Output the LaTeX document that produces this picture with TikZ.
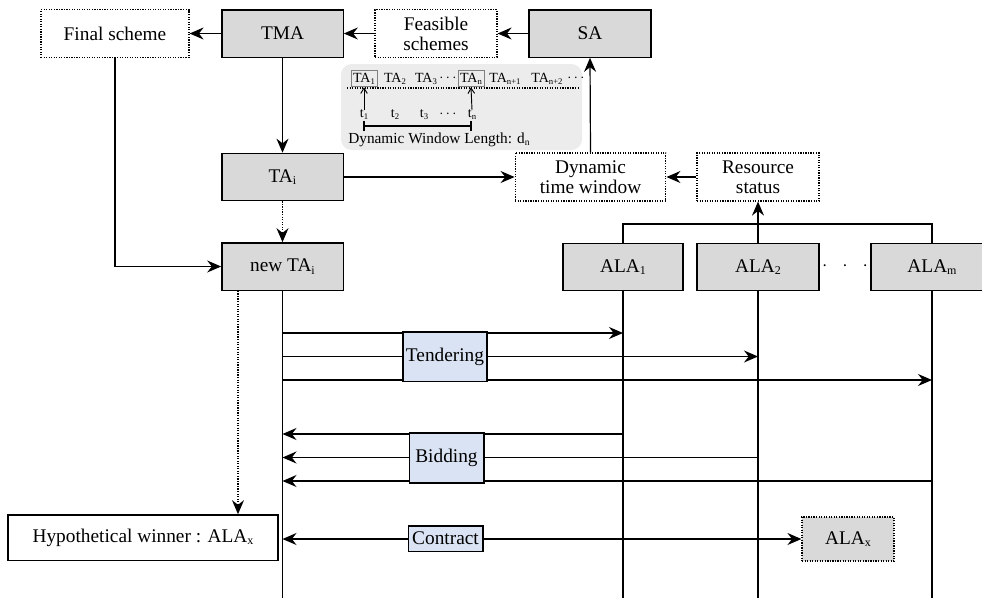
\documentclass[tikz,border=0pt]{standalone}
\usepackage{fontspec}
\usepackage{graphicx}
\setmainfont{Liberation Serif}
\usetikzlibrary{arrows.meta}
\definecolor{boxgray}{HTML}{D9D9D9}
\definecolor{boxblue}{HTML}{DAE3F3}
\definecolor{insetgray}{HTML}{ECECEC}
\definecolor{edgegray}{HTML}{808080}
\newcommand\sbx[1]{\raisebox{-0.3ex}{\scalebox{0.62}{#1}}}
\begin{document}
\begin{tikzpicture}[x=0.75pt,y=-0.75pt,
  every node/.style={font=\rmfamily\fontsize{14.5}{16}\selectfont, inner sep=0pt},
  gbox/.style={draw, line width=1pt, fill=boxgray, minimum height=35.5pt, minimum width=91pt, align=center},
  dbox/.style={draw, densely dotted, line width=0.9pt, fill=white, minimum height=35.5pt, align=center},
  wbox/.style={draw, line width=1pt, fill=white, align=center},
  lbox/.style={draw, line width=1pt, fill=boxblue, align=center},
  line/.style={line width=0.9pt},
  arr/.style={line width=0.9pt, -{Stealth[length=10.5pt,width=9pt,inset=3.5pt]}},
  barr/.style={line width=0.9pt, {Stealth[length=10.5pt,width=9pt,inset=3.5pt]}-{Stealth[length=10.5pt,width=9pt,inset=3.5pt]}},
  small/.style={font=\rmfamily\fontsize{10.5}{12}\selectfont},
  sarr/.style={line width=0.7pt, -{Straight Barb[length=4pt,width=5pt]}}
]
\useasboundingbox (0,0) rectangle (982,597);

% top row
\node[dbox, minimum width=111pt] (fs) at (115,33.5) {Final scheme};
\node[gbox] (tma) at (282.5,33.5) {TMA};
\node[dbox, minimum width=91.5pt] (feas) at (436,33.5) {Feasible\\[-1pt]schemes};
\node[gbox, minimum width=91.5pt] (sa) at (590,33.5) {SA};

% second row
\node[gbox] (tai) at (282.5,177) {TA\sbx{i}};
\node[dbox, minimum width=113pt, minimum height=36pt] (dtw) at (590.5,177) {Dynamic\\[-1pt]time window};
\node[dbox, minimum width=91.5pt, minimum height=36pt] (rs) at (758,177) {Resource\\[-1pt]status};

% third row
\node[gbox] (ntai) at (282.5,266.5) {new TA\sbx{i}};
\node[gbox, minimum width=90pt] (ala1) at (623,267) {ALA\sbx{1}};
\node[gbox, minimum width=91.5pt] (ala2) at (758,267) {ALA\sbx{2}};
\node[gbox, minimum width=91.5pt] (alam) at (932,267) {ALA\sbx{m}};
\node (dots) at (845,266) {$\cdot\;\;\cdot\;\;\cdot$};

% bottom
\node[wbox, minimum width=202.5pt, minimum height=34pt] (hyp) at (143,537.5) {Hypothetical winner : ALA\sbx{x}};
\node[dbox, fill=boxgray, minimum width=69pt, minimum height=33pt] (alax) at (848,539) {ALA\sbx{x}};

% inset: dynamic window
\fill[insetgray, rounded corners=8pt] (341,64) rectangle (582,150);
\begin{scope}[every node/.style={small, inner sep=0pt}]
\node[draw=edgegray, line width=0.7pt, minimum width=19.5pt, minimum height=12.5pt] (w1) at (364,78.5) {TA\sbx{1}};
\node (w2) at (395,78.5) {TA\sbx{2}};
\node (w3) at (426,78.5) {TA\sbx{3}};
\node (w4) at (448,78) {$\cdots$};
\node[draw=edgegray, line width=0.7pt, minimum width=19.5pt, minimum height=12.5pt] (wn) at (471,78.5) {TA\sbx{n}};
\node (wn1) at (505,78.5) {TA\sbx{n+1}};
\node (wn2) at (547,78.5) {TA\sbx{n+2}};
\node (w5) at (576,78) {$\cdots$};
\node (t1) at (364,115) {t\sbx{1}};
\node (t2) at (395,115) {t\sbx{2}};
\node (t3) at (424,115) {t\sbx{3}};
\node (t4) at (448,114) {$\cdots$};
\node (tn) at (472,115) {t\sbx{n}};
\node[anchor=west, font=\rmfamily\fontsize{11.5}{12}\selectfont] (dwl) at (348,140) {Dynamic Window Length: d\sbx{n}};
\end{scope}
\coordinate (dl1) at (347,88);
\coordinate (dl2) at (578,88);
\draw[densely dotted, line width=0.9pt] (dl1) -- (dl2);
\draw[sarr] (t1.north) -- (w1.south);
\draw[sarr] (tn.north) -- (wn.south);
\coordinate (b1) at (364,126);
\coordinate (b2) at (471,126);
\draw[line width=0.8pt] (b1) -- (b2);
\draw[line width=0.8pt] ([yshift=-4]b1) -- ([yshift=4]b1);
\draw[line width=0.8pt] ([yshift=-4]b2) -- ([yshift=4]b2);

% top connectors
\draw[arr] (sa.west) -- (feas.east);
\draw[arr] (feas.west) -- (tma.east);
\draw[arr] (tma.west) -- (fs.east);
\draw[arr] (tma.south) -- (tai.north);
\draw[arr, densely dotted] (tai.south) -- (ntai.north);
\draw[arr] (fs.south) |- (ntai.west);
\draw[arr] (tai.east) -- (dtw.west);
\draw[arr] (rs.west) -- (dtw.east);
\draw[arr] (dtw.north) -- (sa.south);
\draw[line] (ala1.north) -- (ala1.north |- 0,224) -- (alam.north |- 0,224) -- (alam.north);
\draw[arr] (ala2.north) -- (rs.south);

% lifelines
\coordinate (l0) at (282.5,600);
\coordinate (l1) at (623,600);
\coordinate (l2) at (758,600);
\coordinate (lm) at (932,600);
\draw[line] (ntai.south) -- (l0);
\draw[line] (ala1.south) -- (l1);
\draw[line] (ala2.south) -- (l2);
\draw[line] (alam.south) -- (lm);
\draw[arr, densely dotted] (ntai.south -| 238,0) -- (238,0 |- hyp.north);

% tendering
\draw[arr] (ntai.south |- 0,333) -- (ala1.south |- 0,333);
\draw[arr] (ntai.south |- 0,356.5) -- (ala2.south |- 0,356.5);
\draw[arr] (ntai.south |- 0,380) -- (alam.south |- 0,380);
% bidding
\draw[arr] (ala1.south |- 0,434) -- (ntai.south |- 0,434);
\draw[arr] (ala2.south |- 0,457.5) -- (ntai.south |- 0,457.5);
\draw[arr] (alam.south |- 0,481) -- (ntai.south |- 0,481);
% contract
\draw[barr] (ntai.south |- alax.west) -- (alax.west);

% labels on top of lines
\node[lbox, minimum width=63pt, minimum height=37pt] (tend) at (445,356.5) {Tendering};
\node[lbox, minimum width=56pt, minimum height=37.5pt] (bid) at (446.5,458) {Bidding};
\node[lbox, minimum width=56pt, minimum height=19pt] (con) at (445.5,538.5) {Contract};
\end{tikzpicture}
\end{document}
